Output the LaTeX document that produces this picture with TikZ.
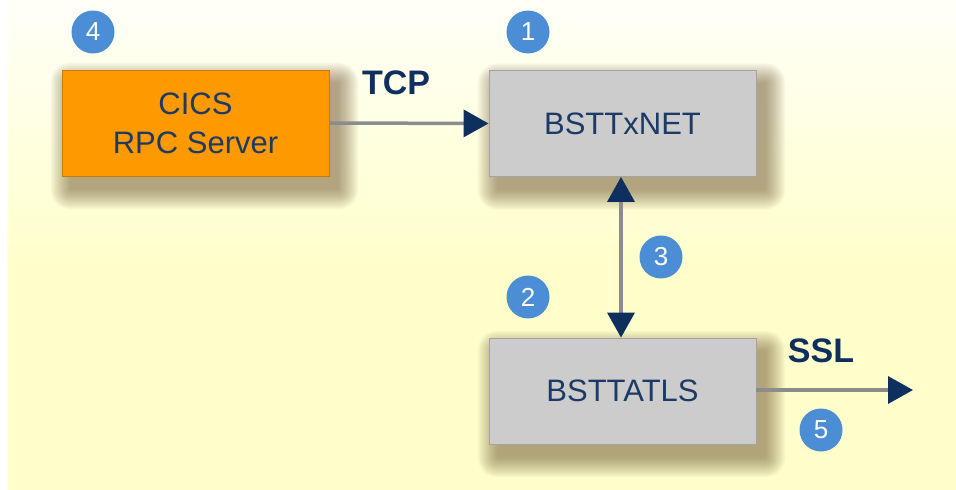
\documentclass[tikz,border=0pt]{standalone}
\usepackage{fontspec}
\setmainfont{Liberation Sans}
\usetikzlibrary{arrows.meta}
\pgfdeclarelayer{bg}
\pgfdeclarelayer{shadowlayer}
\pgfsetlayers{bg,shadowlayer,main}
\definecolor{bgtop}{HTML}{FFFFF8}
\definecolor{bgbot}{HTML}{FFFFCC}
\definecolor{orangebox}{HTML}{FF9900}
\definecolor{graybox}{HTML}{CCCCCC}
\definecolor{navy}{HTML}{0F2F5F}
\definecolor{txt}{HTML}{1C3A66}
\definecolor{linegray}{HTML}{8C8C8C}
\definecolor{badge}{HTML}{4C8ED6}
\definecolor{shadowc}{HTML}{6A4E28}
\tikzset{
  box/.style={draw=#1!80!black, line width=0.8pt, fill=#1, minimum width=267pt, minimum height=106pt,
    inner sep=0pt, font=\fontsize{31}{39}\selectfont, text=txt, align=center},
  badgenode/.style={circle, fill=badge, minimum size=43pt, inner sep=0pt, text=white, font=\fontsize{26}{26}\selectfont},
  lbl/.style={font=\bfseries\fontsize{34}{34}\selectfont, text=navy},
  conn/.style={draw=linegray, line width=3.5pt},
  tip/.style={-{Triangle[length=25pt,width=27pt,color=navy]}},
  tips/.style={{Triangle[length=25pt,width=27pt,color=navy]}-{Triangle[length=25pt,width=27pt,color=navy]}}
}
\newcommand\myboxshadow[1]{%
  \foreach \k in {0,...,19}{%
    \pgfmathsetmacro\e{20-1.05*\k}%
    \fill[shadowc, opacity=0.032, rounded corners=\e pt]
      ([shift={(9-\e,13-\e)}]#1.north west) rectangle ([shift={(9+\e,13+\e)}]#1.south east);
  }}
\begin{document}
\begin{tikzpicture}[x=1pt,y=-1pt]
\useasboundingbox (0,0) rectangle (956,490);
\begin{pgfonlayer}{bg}
\fill[white] (0,0) rectangle (956,490);
\shade[top color=bgtop, bottom color=bgbot] (8,0) rectangle (956,260);
\fill[bgbot] (8,259) rectangle (956,490);
\end{pgfonlayer}

\node[box=orangebox] (cics) at (195.5,123) {CICS\\RPC Server};
\node[box=graybox] (net) at (622.5,123.5) {BSTTxNET};
\node[box=graybox] (tls) at (622.5,391) {BSTTATLS};
\coordinate (out) at (913,390);

\begin{pgfonlayer}{shadowlayer}
\myboxshadow{cics}
\myboxshadow{net}
\myboxshadow{tls}
\end{pgfonlayer}

\draw[conn,tip] (cics.east) -- (net.west);
\draw[conn,tips] (net.south -| 621,0) -- (tls.north -| 621,0);
\draw[conn,tip] (tls.east |- out) -- (out);

\node[lbl] (tcp) at (396,83) {TCP};
\node[lbl] (ssl) at (821,351) {SSL};

\node[badgenode] (b4) at (93,32) {4};
\node[badgenode] (b1) at (528,32) {1};
\node[badgenode] (b3) at (661,257) {3};
\node[badgenode] (b2) at (528,297) {2};
\node[badgenode] (b5) at (821,430) {5};
\end{tikzpicture}
\end{document}
